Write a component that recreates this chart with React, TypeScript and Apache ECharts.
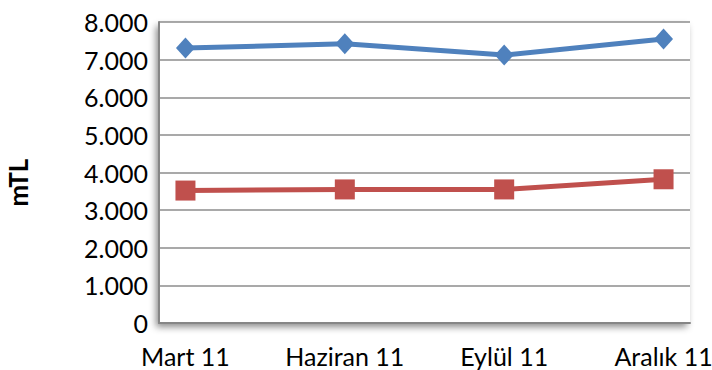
import React, { useEffect, useRef } from "react";
import * as echarts from "echarts";

const categories = ["Mart 11", "Haziran 11", "Eylül 11", "Aralık 11"];
const seriesBlue = [7310, 7420, 7120, 7550];
const seriesRed = [3520, 3550, 3550, 3820];
const yTicks = [0, 1000, 2000, 3000, 4000, 5000, 6000, 7000, 8000];
const yAxisTitle = "mTL";

const fmt = (v: number) => (v === 0 ? "0" : (v / 1000).toFixed(3));

export default function App() {
  const ref = useRef<HTMLDivElement>(null);
  useEffect(() => {
    if (!ref.current) return;
    const chart = echarts.init(ref.current, null, { renderer: "svg" });
    const font = "Lato, 'Open Sans', sans-serif";
    const axisLineStyle = { color: "#868686", width: 2 };
    chart.setOption({
      animation: false,
      backgroundColor: "#ffffff",
      grid: {
        left: 159,
        right: 22,
        top: 22,
        bottom: 47,
        containLabel: false,
        outerBoundsMode: "none",
        show: true,
        backgroundColor: "#ffffff",
        borderWidth: 0,
        shadowColor: "rgba(0,0,0,0.45)",
        shadowBlur: 7,
        shadowOffsetX: -3,
        shadowOffsetY: 4,
      },
      xAxis: {
        type: "value",
        min: -0.166,
        max: 3.166,
        splitLine: { show: false },
        axisTick: { show: false },
        axisLine: { show: true, onZero: false, lineStyle: axisLineStyle },
        axisLabel: {
          customValues: categories.map((_, i) => i),
          formatter: (v: number) => categories[Math.round(v)] ?? "",
          color: "#000",
          fontFamily: font,
          fontSize: 25,
          margin: 20,
          hideOverlap: false,
          showMinLabel: true,
          showMaxLabel: true,
        },
      },
      yAxis: {
        type: "value",
        min: yTicks[0],
        max: yTicks[yTicks.length - 1],
        interval: 1000,
        name: yAxisTitle,
        nameLocation: "middle",
        nameGap: 128,
        nameTextStyle: {
          fontFamily: font,
          fontSize: 26,
          fontWeight: "bold",
          color: "#000",
          padding: [0, 20, 0, 0],
        },
        axisLine: { show: true, onZero: false, lineStyle: axisLineStyle },
        axisTick: { show: false },
        splitLine: { show: true, lineStyle: { color: "#8c8c8c", width: 1.5 } },
        axisLabel: {
          formatter: fmt,
          color: "#000",
          fontFamily: font,
          fontSize: 25,
          margin: 11,
        },
      },
      series: [
        {
          type: "line",
          data: seriesBlue.map((v, i) => [i, v]),
          symbol: "diamond",
          symbolSize: [19, 21],
          lineStyle: { color: "#4F81BD", width: 5 },
          itemStyle: { color: "#4F81BD" },
          z: 3,
        },
        {
          type: "line",
          data: seriesRed.map((v, i) => [i, v]),
          symbol: "rect",
          symbolSize: 20,
          lineStyle: { color: "#C0504D", width: 5 },
          itemStyle: { color: "#C0504D" },
          z: 2,
        },
      ],
    });
    return () => chart.dispose();
  }, []);
  return (
    <div
      ref={ref}
      style={{ position: "absolute", left: 0, top: 0, width: 712, height: 370 }}
    />
  );
}
